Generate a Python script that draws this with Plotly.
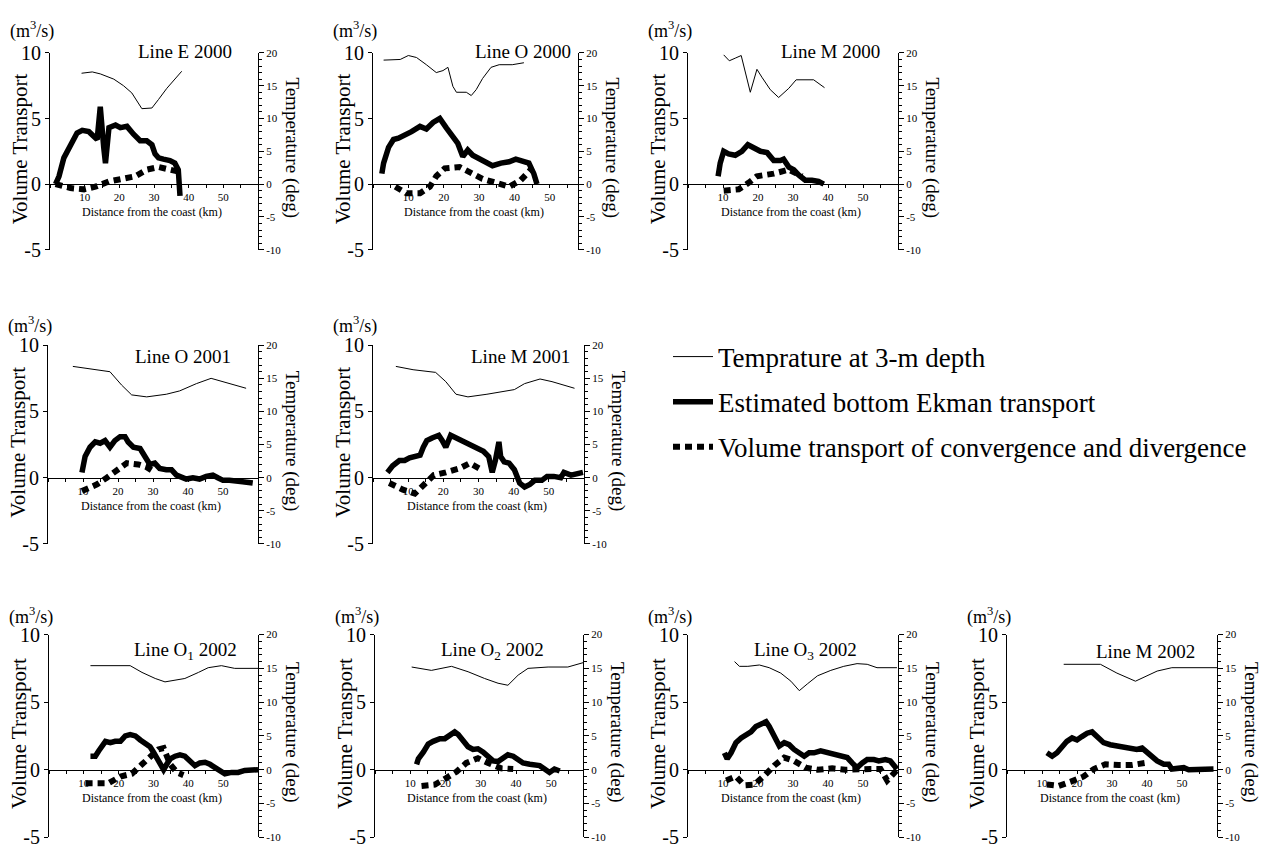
import plotly.graph_objects as go

# ---------------- DATA ----------------
titles = ["Line E 2000", "Line O 2000", "Line M 2000",
          "Line O 2001", "Line M 2001",
          "Line O<sub>1</sub> 2002", "Line O<sub>2</sub> 2002",
          "Line O<sub>3</sub> 2002", "Line M 2002"]

x_ticks = [10, 20, 30, 40, 50]
left_ticks = [-5, 0, 5, 10]
left_tick_text = ["-5", "0", "5", "10"]
right_ticks = [-10, -5, 0, 5, 10, 15, 20]
right_tick_text = ["-10", "-5", "0", "5", "10", "15", "20"]

# Line E 2000
e00_temp_km = [9.1, 12.2, 14.5, 18.4, 21.2, 23.6, 26.5, 29.4, 31.3, 33.7, 38.0]
e00_temp = [16.9, 17.1, 16.8, 16.0, 15.0, 13.9, 11.5, 11.6, 12.9, 14.6, 17.2]
e00_ek_km = [1.6, 2.6, 4.0, 5.9, 7.8, 9.3, 11.2, 13.6, 14.5, 15.5, 16.0, 17.0, 18.9, 20.3, 22.2,
             24.1, 26.0, 27.9, 29.4, 30.3, 31.3, 32.7, 34.6, 36.0, 37.0, 37.5]
e00_ek = [0.0, 0.6, 2.0, 3.0, 3.9, 4.1, 4.0, 3.4, 5.9, 2.8, 1.6, 4.3, 4.5, 4.3, 4.4,
          3.8, 3.3, 3.3, 3.0, 2.3, 2.0, 1.9, 1.8, 1.6, 1.1, -0.9]
e00_cv_km = [1.6, 5.9, 9.8, 13.1, 17.0, 20.8, 24.6, 27.9, 31.3, 34.6, 38.0]
e00_cv = [0.0, -0.3, -0.4, -0.2, 0.2, 0.4, 0.6, 1.1, 1.3, 1.1, 0.9]

# Line O 2000
o00_temp_km = [3.0, 7.7, 10.0, 12.3, 15.1, 17.9, 19.8, 21.2, 22.6, 23.6, 26.4, 27.8, 29.2,
               31.0, 33.4, 35.7, 39.4, 42.7]
o00_temp = [18.9, 19.0, 19.6, 19.3, 18.2, 17.0, 17.3, 17.8, 14.9, 14.0, 14.0, 13.5, 14.4,
            16.1, 17.8, 18.2, 18.2, 18.5]
o00_ek_km = [2.5, 3.0, 4.4, 5.8, 7.2, 9.1, 10.9, 13.3, 15.1, 17.0, 18.9, 20.7, 22.6, 24.0,
             25.4, 26.8, 28.2, 30.1, 32.0, 33.8, 36.2, 38.5, 40.4, 42.2, 44.1, 45.5, 46.4]
o00_ek = [0.8, 1.6, 2.8, 3.4, 3.5, 3.7, 4.0, 4.4, 4.2, 4.7, 5.0, 4.3, 3.7, 3.1,
          2.1, 2.6, 2.2, 1.9, 1.7, 1.4, 1.6, 1.7, 1.9, 1.7, 1.6, 0.8, 0.0]
o00_cv_km = [6.3, 9.5, 13.3, 16.1, 17.9, 20.3, 24.5, 27.8, 31.0, 34.8, 38.5, 41.8, 44.6]
o00_cv = [-0.2, -0.7, -0.7, -0.2, 0.6, 1.2, 1.3, 0.8, 0.4, 0.1, -0.2, 0.3, 1.1]

# Line M 2000
m00_temp_km = [10.2, 11.8, 13.5, 15.2, 17.8, 19.7, 21.1, 23.5, 25.9, 28.8, 30.9, 33.5, 35.9, 39.0]
m00_temp = [19.7, 18.8, 19.2, 19.6, 14.0, 17.5, 16.3, 14.4, 13.2, 14.6, 15.9, 15.9, 15.9, 14.7]
m00_ek_km = [8.6, 9.2, 10.2, 11.6, 13.5, 15.4, 17.1, 18.8, 20.7, 22.6, 24.5, 26.4, 27.3, 28.8,
             30.2, 31.6, 33.5, 35.4, 37.3, 38.8]
m00_ek = [0.6, 1.6, 2.5, 2.3, 2.2, 2.5, 3.0, 2.8, 2.5, 2.4, 1.8, 1.8, 1.9, 1.3,
          1.1, 0.7, 0.3, 0.3, 0.2, 0.0]
m00_cv_km = [10.2, 14.5, 17.3, 19.7, 24.5, 28.8, 32.6]
m00_cv = [-0.5, -0.4, 0.1, 0.6, 0.8, 1.1, 0.6]

# Line O 2001
o01_temp_km = [7.1, 11.1, 14.9, 17.7, 21.0, 23.9, 28.2, 33.8, 37.6, 42.4, 46.6, 51.0, 56.6]
o01_temp = [16.8, 16.5, 16.2, 16.0, 14.0, 12.5, 12.2, 12.6, 13.1, 14.2, 15.0, 14.3, 13.5]
o01_ek_km = [9.7, 10.6, 12.0, 13.5, 14.9, 16.3, 17.7, 19.1, 20.6, 22.0, 22.9, 24.4, 26.3, 27.7,
             29.1, 30.5, 31.9, 33.8, 35.3, 36.7, 38.1, 39.5, 41.4, 43.3, 45.2, 47.1, 48.5,
             50.0, 51.8, 53.7, 55.6, 58.5]
o01_ek = [0.4, 1.6, 2.3, 2.7, 2.6, 2.8, 2.3, 2.8, 3.1, 3.1, 2.7, 2.3, 2.2, 1.6,
          1.0, 1.1, 0.7, 0.6, 0.6, 0.2, 0.0, -0.1, 0.0, -0.1, 0.1, 0.2, 0.0,
          -0.2, -0.2, -0.3, -0.3, -0.4]
o01_cv_km = [9.7, 14.0, 16.8, 19.6, 22.5, 25.8, 28.2, 30.0]
o01_cv = [-1.0, -0.5, 0.0, 0.6, 1.1, 1.0, 0.8, 0.5]

# Line M 2001
m01_temp_km = [6.5, 11.4, 17.8, 20.7, 23.6, 27.0, 32.4, 40.2, 43.1, 47.5, 50.9, 57.3]
m01_temp = [16.8, 16.3, 15.9, 14.5, 12.6, 12.2, 12.6, 13.3, 14.2, 14.9, 14.5, 13.5]
m01_ek_km = [4.1, 5.6, 7.5, 9.0, 10.4, 11.9, 13.4, 14.3, 15.3, 16.8, 18.7, 19.7, 20.7, 22.1,
             23.6, 25.1, 26.5, 28.0, 29.5, 31.4, 32.9, 33.9, 34.8, 35.8, 36.3, 37.3, 38.7,
             40.2, 41.7, 43.1, 44.6, 46.0, 48.0, 49.5, 51.4, 53.4, 54.3, 56.3, 59.7]
m01_ek = [0.4, 0.9, 1.3, 1.3, 1.5, 1.6, 1.7, 2.3, 2.8, 3.0, 3.2, 2.8, 2.3, 3.2,
          3.0, 2.9, 2.7, 2.4, 2.2, 2.0, 1.6, 0.4, 1.3, 2.7, 1.6, 1.2, 1.1,
          0.6, -0.4, -0.7, -0.5, -0.2, -0.2, 0.1, 0.1, 0.0, 0.4, 0.2, 0.4]
m01_cv_km = [4.6, 8.5, 11.9, 14.8, 17.3, 20.7, 24.6, 27.5, 30.9]
m01_cv = [-0.4, -0.9, -1.2, -0.5, 0.2, 0.4, 0.7, 1.1, 0.6]

# Line O1 2002
o102_temp_km = [11.9, 23.3, 26.7, 30.5, 33.3, 36.2, 39.0, 42.9, 45.7, 49.5, 53.3, 60.0]
o102_temp = [15.4, 15.4, 14.4, 13.5, 13.0, 13.2, 13.5, 14.4, 15.1, 15.4, 15.0, 15.0]
o102_ek_km = [11.9, 13.3, 14.3, 15.2, 16.2, 17.6, 19.0, 20.5, 21.9, 23.3, 24.8, 26.2, 27.6,
              29.0, 30.0, 31.0, 31.9, 32.9, 33.8, 34.8, 36.2, 37.6, 39.0, 40.5, 41.9, 43.3,
              44.8, 46.2, 47.6, 49.0, 50.5, 52.4, 54.3, 56.2, 58.1, 60.0]
o102_ek = [1.0, 1.0, 1.4, 1.7, 2.1, 2.0, 2.1, 2.1, 2.5, 2.6, 2.5, 2.2, 2.0,
           1.7, 1.3, 0.9, 0.4, 0.0, 0.4, 0.8, 1.0, 1.1, 1.0, 0.6, 0.3, 0.5,
           0.55, 0.4, 0.2, 0.0, -0.3, -0.2, -0.2, -0.05, 0.0, 0.0]
o102_cv_km = [10.5, 14.3, 17.1, 20.5, 23.8, 26.7, 29.5, 31.4, 32.9, 34.8, 36.7, 38.6]
o102_cv = [-1.0, -1.0, -1.0, -0.5, -0.3, 0.4, 1.1, 1.5, 1.6, 0.4, -0.2, -0.4]

# Line O2 2002
o202_temp_km = [10.4, 16.0, 21.7, 26.4, 31.1, 34.9, 37.7, 40.6, 43.4, 49.1, 54.7, 59.4]
o202_temp = [15.2, 14.7, 15.3, 14.5, 13.5, 12.8, 12.5, 14.0, 15.0, 15.2, 15.2, 15.9]
o202_ek_km = [11.8, 12.3, 13.7, 15.1, 16.5, 18.4, 19.8, 21.2, 22.6, 23.6, 25.0, 26.4, 27.8,
              29.2, 30.7, 32.1, 33.5, 34.9, 36.3, 37.7, 39.2, 40.6, 42.0, 43.9, 45.3, 46.7,
              48.1, 49.5, 50.9, 52.4]
o202_ek = [0.4, 0.8, 1.3, 1.9, 2.1, 2.3, 2.3, 2.6, 2.8, 2.6, 2.1, 1.7, 1.5,
           1.55, 1.3, 0.9, 0.65, 0.6, 0.8, 1.1, 1.0, 0.8, 0.5, 0.4, 0.4, 0.3,
           0.05, -0.2, 0.05, -0.1]
o202_cv_km = [13.2, 17.0, 20.3, 23.1, 25.9, 29.2, 32.1, 35.8, 39.2]
o202_cv = [-1.2, -1.1, -0.6, -0.15, 0.5, 0.85, 0.5, 0.1, 0.05]

# Line O3 2002
o302_temp_km = [13.3, 14.7, 17.1, 20.4, 23.2, 26.5, 29.4, 31.8, 34.1, 37.0, 40.8, 44.5, 48.3,
                51.2, 54.0, 59.7]
o302_temp = [16.0, 15.3, 15.3, 15.5, 15.1, 14.3, 13.1, 11.7, 12.7, 13.9, 14.7, 15.3, 15.7,
             15.6, 15.1, 15.1]
o302_ek_km = [10.4, 11.2, 12.3, 13.7, 15.2, 16.6, 18.0, 19.4, 20.9, 22.3, 23.2, 24.6, 26.1,
              27.5, 28.9, 30.3, 31.8, 33.2, 34.6, 36.0, 37.9, 39.8, 41.7, 43.6, 45.5, 46.9,
              48.3, 49.8, 51.2, 53.1, 54.5, 56.4, 57.8, 59.7]
o302_ek = [1.25, 0.8, 1.25, 2.0, 2.35, 2.6, 2.8, 3.2, 3.4, 3.55, 3.2, 2.5, 1.75,
           2.0, 1.85, 1.5, 1.25, 1.0, 1.25, 1.25, 1.4, 1.3, 1.15, 1.05, 0.9, 0.5,
           0.15, 0.5, 0.75, 0.75, 0.65, 0.75, 0.65, 0.05]
o302_cv_km = [10.9, 13.7, 16.1, 19.0, 21.8, 24.6, 27.5, 30.3, 33.6, 37.0, 41.2, 45.0, 52.1,
              55.0, 56.9, 61.6]
o302_cv = [-0.8, -0.5, -1.15, -1.1, -0.45, 0.3, 0.9, 0.65, 0.15, 0.0, 0.1, 0.0, 0.05,
           0.05, -0.8, 0.5]

# Line M 2002
m02_temp_km = [16.2, 26.7, 31.4, 36.7, 40.0, 42.9, 47.1, 50.5, 60.0]
m02_temp = [15.6, 15.6, 14.3, 13.1, 13.9, 14.6, 15.1, 15.1, 15.1]
m02_ek_km = [11.4, 12.9, 14.3, 15.7, 17.1, 18.6, 20.0, 21.4, 22.9, 24.3, 25.7, 27.6, 29.5,
             31.4, 33.3, 35.2, 37.1, 38.6, 40.0, 41.4, 42.9, 44.8, 46.2, 47.1, 48.6, 50.5,
             51.9, 54.3, 56.7, 59.0]
m02_ek = [1.25, 1.0, 1.25, 1.75, 2.1, 2.35, 2.2, 2.45, 2.7, 2.8, 2.45, 2.0, 1.85,
          1.75, 1.6, 1.5, 1.5, 1.6, 1.25, 0.9, 0.65, 0.4, 0.4, 0.05, 0.05, 0.15,
          0.0, 0.0, 0.1, 0.05]
m02_cv_km = [11.4, 14.8, 18.1, 21.9, 24.8, 28.1, 31.9, 35.7, 39.5]
m02_cv = [-1.1, -1.2, -0.9, -0.5, 0.05, 0.4, 0.35, 0.35, 0.5]

series = [
    (e00_temp_km, e00_temp, e00_ek_km, e00_ek, e00_cv_km, e00_cv),
    (o00_temp_km, o00_temp, o00_ek_km, o00_ek, o00_cv_km, o00_cv),
    (m00_temp_km, m00_temp, m00_ek_km, m00_ek, m00_cv_km, m00_cv),
    (o01_temp_km, o01_temp, o01_ek_km, o01_ek, o01_cv_km, o01_cv),
    (m01_temp_km, m01_temp, m01_ek_km, m01_ek, m01_cv_km, m01_cv),
    (o102_temp_km, o102_temp, o102_ek_km, o102_ek, o102_cv_km, o102_cv),
    (o202_temp_km, o202_temp, o202_ek_km, o202_ek, o202_cv_km, o202_cv),
    (o302_temp_km, o302_temp, o302_ek_km, o302_ek, o302_cv_km, o302_cv),
    (m02_temp_km, m02_temp, m02_ek_km, m02_ek, m02_cv_km, m02_cv),
]

legend_names = ["Temprature at 3-m depth",
                "Estimated bottom Ekman transport",
                "Volume transport of convergence and divergence"]

# ---------------- LAYOUT (pixel geometry of each panel) ----------------
W, H = 1266, 858
# left axis px, right axis px, top px (value 10), bottom px (value -5), x max, title centre px, unit label dy
geom = [
    (50, 258, 43, 245, 60, (185, 42), -24),
    (373, 578, 43, 245, 58, (523, 42), -24),
    (688, 898, 43, 245, 60, (830, 42), -24),
    (48, 258, 343, 547, 60, (183, 355), -21),
    (373, 584, 343, 547, 60, (520, 355), -21),
    (49, 258, 640, 848, 60, (185, 657), -19),
    (375, 583, 640, 848, 59, (492, 657), -19),
    (688, 898, 640, 848, 60, (805, 657), -19),
    (1007, 1217, 640, 848, 60, (1145, 657), -19),
]

SERIF = "Liberation Serif"
fig = go.Figure()
annotations = []
layout_axes = {}


def px_x(p):
    return p / W


def px_y(p):
    return 1 - p / H


for k, (g, s, title) in enumerate(zip(geom, series, titles), start=1):
    left, right, top, bottom, xmax, (tcx, tcy), unit_dy = g
    t_km, t_v, e_km, e_v, c_km, c_v = s
    xa = "x" if k == 1 else f"x{k}"
    yl = f"y{2 * k - 1}" if k > 1 else "y"
    yr = f"y{2 * k}"
    show = (k == 1)

    fig.add_trace(go.Scatter(x=t_km, y=t_v, xaxis=xa, yaxis=yr, mode="lines",
                             line=dict(color="black", width=1),
                             name=legend_names[0], legendgroup="g1", showlegend=show))
    fig.add_trace(go.Scatter(x=e_km, y=e_v, xaxis=xa, yaxis=yl, mode="lines",
                             line=dict(color="black", width=5.5),
                             name=legend_names[1], legendgroup="g2", showlegend=show))
    fig.add_trace(go.Scatter(x=c_km, y=c_v, xaxis=xa, yaxis=yl, mode="lines",
                             line=dict(color="black", width=6, dash="7px,5px"),
                             name=legend_names[2], legendgroup="g3", showlegend=show))

    ydom = [px_y(bottom), px_y(top)]
    zero_pos = ydom[0] + (ydom[1] - ydom[0]) / 3.0
    xkey = "xaxis" if k == 1 else f"xaxis{k}"
    ylkey = "yaxis" if k == 1 else f"yaxis{2 * k - 1}"
    yrkey = f"yaxis{2 * k}"

    layout_axes[xkey] = dict(
        domain=[px_x(left), px_x(right)], range=[0, xmax], anchor="free", position=zero_pos,
        showline=True, linecolor="black", linewidth=1, showgrid=False, zeroline=False,
        tickmode="array", tickvals=x_ticks, ticks="outside", ticklen=3, tickcolor="black",
        minor=dict(ticks="outside", ticklen=3, dtick=5, tick0=0, tickcolor="black"),
        tickfont=dict(size=11, family=SERIF, color="black"), fixedrange=True)
    layout_axes[ylkey] = dict(
        domain=ydom, range=[-5, 10], anchor=xa, side="left",
        showline=True, linecolor="black", linewidth=1, showgrid=False, zeroline=False,
        tickmode="array", tickvals=left_ticks, ticktext=left_tick_text,
        ticks="outside", ticklen=4, tickcolor="black",
        tickfont=dict(size=20, family=SERIF, color="black"), fixedrange=True)
    layout_axes[yrkey] = dict(
        overlaying=yl, range=[-10, 20], anchor=xa, side="right",
        showline=True, linecolor="black", linewidth=1, showgrid=False, zeroline=False,
        tickmode="array", tickvals=right_ticks, ticktext=right_tick_text,
        ticks="outside", ticklen=5, tickcolor="black",
        minor=dict(ticks="outside", ticklen=3, dtick=1, tick0=0, tickcolor="black"),
        tickfont=dict(size=11, family=SERIF, color="black"), fixedrange=True)

    y0px = bottom - (bottom - top) / 3.0
    annotations += [
        dict(text="(m<sup>3</sup>/s)", x=px_x(left - 18), y=px_y(top + unit_dy),
             font=dict(size=18, family=SERIF)),
        dict(text="Volume Transport", x=px_x(left - 30), y=px_y((top + bottom) / 2 - 2),
             textangle=-90, font=dict(size=21, family=SERIF)),
        dict(text="Temperature (deg)", x=px_x(right + 34), y=px_y((top + bottom) / 2 - 4),
             textangle=90, font=dict(size=19, family=SERIF)),
        dict(text="Distance from the coast (km)", x=px_x((left + right) / 2 - 2),
             y=px_y(y0px + 29), font=dict(size=12, family=SERIF)),
        dict(text=title, x=px_x(tcx), y=px_y(tcy), font=dict(size=19, family=SERIF)),
    ]

for a in annotations:
    a.update(xref="paper", yref="paper", showarrow=False, xanchor="center",
             yanchor="middle")
    a["font"]["color"] = "black"

fig.update_layout(
    width=W, height=H, margin=dict(l=0, r=0, t=0, b=0),
    paper_bgcolor="white", plot_bgcolor="white",
    font=dict(family=SERIF, color="black"),
    annotations=annotations,
    legend=dict(x=px_x(668), y=px_y(330), xanchor="left", yanchor="top",
                font=dict(size=27, family=SERIF, color="black"),
                tracegroupgap=7, itemwidth=40, bgcolor="rgba(0,0,0,0)",
                traceorder="grouped"),
    **layout_axes,
)

fig.write_html("out.html", config={"displayModeBar": False},
               post_script="document.body.style.margin='0px';")
